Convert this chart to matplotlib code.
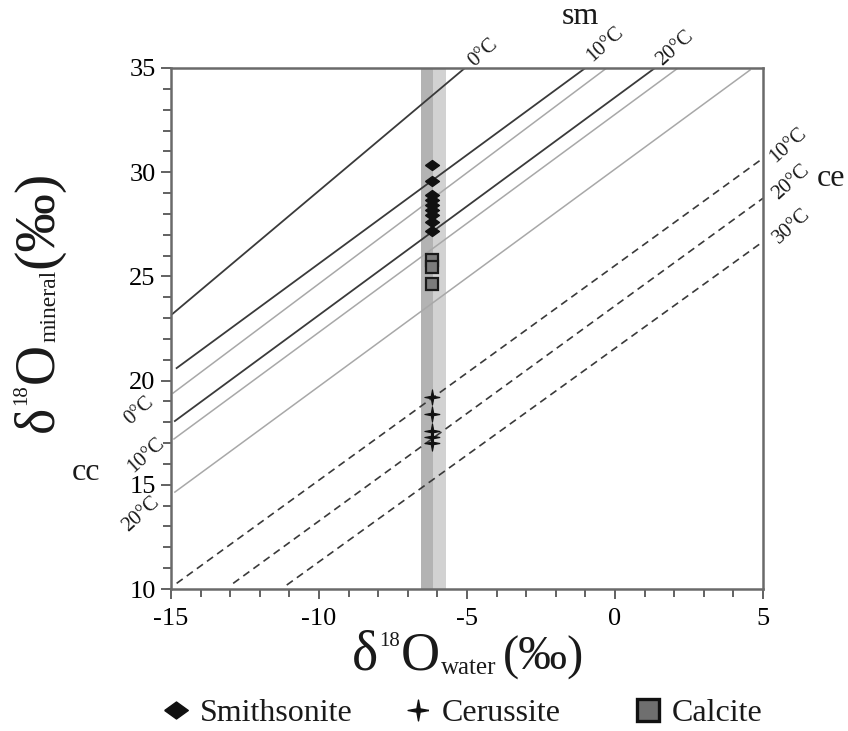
import matplotlib
matplotlib.use("Agg")
import matplotlib.pyplot as plt
import numpy as np
from matplotlib.lines import Line2D

# ---------------- data ----------------
# smithsonite equilibrium lines (solid dark)
sm_T = ["0°C", "10°C", "20°C"]
sm_x0 = [-14.95, -14.81, -14.87]
sm_y0 = [23.2, 20.6, 18.06]
sm_x1 = [-5.07, -1.0, 1.35]
sm_y1 = [35.0, 35.0, 35.0]
# calcite equilibrium lines (solid light)
cc_T = ["0°C", "10°C", "20°C"]
cc_x0 = [-14.93, -14.9, -14.87]
cc_y0 = [19.4, 17.2, 14.65]
cc_x1 = [-0.28, 2.13, 4.56]
cc_y1 = [35.0, 35.0, 34.9]
# cerussite equilibrium lines (dashed)
ce_T = ["10°C", "20°C", "30°C"]
ce_x0 = [-14.81, -12.9, -11.09]
ce_y0 = [10.27, 10.27, 10.19]
ce_x1 = [5.0, 5.0, 5.0]
ce_y1 = [30.67, 28.75, 26.67]

# water band
band_lo, band_mid, band_hi = -6.57, -6.15, -5.72

# samples
water_x = -6.19
smithsonite = [30.35, 29.58, 28.9, 28.67, 28.43, 28.19, 27.95, 27.6, 27.2]
calcite = [25.8, 25.45, 24.65]
cerussite = [19.2, 18.4, 17.6, 17.3, 17.0]

xticks = [-15, -10, -5, 0, 5]
yticks = [10, 15, 20, 25, 30, 35]

# ---------------- figure ----------------
W, H = 848, 731
plt.rcParams["font.family"] = ["Liberation Serif", "DejaVu Serif"]
fig = plt.figure(figsize=(W / 100, H / 100), dpi=100)
ax = fig.add_axes([171 / W, 1 - 589 / H, (763 - 171) / W, (589 - 68) / H])
ax.set_xlim(-15, 5)
ax.set_ylim(10, 35)

ax.axvspan(band_lo, band_mid, color="#b3b3b3", lw=0, zorder=1)
ax.axvspan(band_mid, band_hi, color="#d2d2d2", lw=0, zorder=1)

for i in range(3):
    ax.plot([sm_x0[i], sm_x1[i]], [sm_y0[i], sm_y1[i]], color="#3a3a3a", lw=1.3, zorder=2)
    ax.plot([cc_x0[i], cc_x1[i]], [cc_y0[i], cc_y1[i]], color="#a8a8a8", lw=1.1, zorder=2)
    ax.plot([ce_x0[i], ce_x1[i]], [ce_y0[i], ce_y1[i]], color="#3a3a3a", lw=1.2,
            ls=(0, (4.5, 3)), zorder=2)

diamond = [(-1, 0), (0, 0.72), (1, 0), (0, -0.72), (-1, 0)]
r_in = 0.22
star4 = []
for k in range(4):
    a = np.pi / 2 * k
    star4.append((np.cos(a), np.sin(a)))
    star4.append((r_in * np.cos(a + np.pi / 4), r_in * np.sin(a + np.pi / 4)))
star4.append(star4[0])

ax.plot([water_x] * len(smithsonite), smithsonite, ls="none", marker=diamond,
        ms=10, color="#111111", zorder=4)
ax.plot([water_x] * len(calcite), calcite, ls="none", marker="s", ms=8,
        mfc="#7c7c7c", mec="#1a1a1a", mew=1.6, zorder=4)
ax.plot([water_x] * len(cerussite), cerussite, ls="none", marker=star4, ms=11,
        color="#111111", mew=0.8, zorder=4)

ax.set_xticks(xticks)
ax.set_yticks(yticks)
ax.set_xticks(np.arange(-15, 5.1, 1), minor=True)
ax.set_yticks(np.arange(10, 35.1, 1), minor=True)
ax.tick_params(which="both", direction="out", color="#555555", width=1.3,
               labelsize=19, top=False, right=False)
ax.tick_params(which="major", length=7)
ax.tick_params(which="minor", length=6)
ax.tick_params(axis="x", pad=7)
ax.tick_params(axis="y", pad=4)
for sp in ax.spines.values():
    sp.set_color("#6a6a6a")
    sp.set_linewidth(1.8)
ax.set_xticklabels([str(t) for t in xticks])


def fx(x):
    return x / W


def fy(y):
    return 1 - y / H


def lab(x, y, s, size, rot=0, **kw):
    fig.text(fx(x), fy(y), s, size=size, rotation=rot, ha="center", va="center",
             color="#1a1a1a", **kw)


# temperature labels
top_pos = [(483, 53), (605, 44), (675, 48)]
for (x, y), s in zip(top_pos, sm_T):
    lab(x, y, s, 15, 42)
left_pos = [(139, 411), (146, 455), (141, 514)]
for (x, y), s in zip(left_pos, cc_T):
    lab(x, y, s, 15, 42)
right_pos = [(788, 145), (791, 182), (792, 226)]
for (x, y), s in zip(right_pos, ce_T):
    lab(x, y, s, 15, 42)
lab(580, 17, "sm", 23)
lab(831, 178, "ce", 23)
lab(86, 473, "cc", 23)

# ---------------- composite axis labels ----------------
fig.canvas.draw()
rend = fig.canvas.get_renderer()


def chain_h(pieces, x0, base):
    pos = x0
    for s, size, raise_, gap in pieces:
        t = fig.text(fx(pos), fy(base - raise_), s, size=size, ha="left",
                     va="baseline", color="#1a1a1a")
        bb = t.get_window_extent(rend)
        pos = bb.x1 + gap


def chain_v(pieces, base_x, y0):
    pos = H - y0  # display coords from bottom
    for s, size, raise_, gap in pieces:
        t = fig.text(fx(base_x - raise_), pos / H, s, size=size, ha="left",
                     va="baseline", rotation=90, rotation_mode="anchor",
                     color="#1a1a1a")
        bb = t.get_window_extent(rend)
        pos = bb.y1 + gap


chain_h([("δ", 40, 0, 1), ("18", 15, 24, 1), ("O", 39, 0, 1),
         ("water", 18, -4, 6), ("(‰)", 35, 0, 0)], 352, 670)
chain_v([("δ", 40, 0, 1), ("18", 15, 26, 1), ("O", 40, 0, 1),
         ("mineral", 17, -3, 2), ("(‰)", 42, 0, 0)], 52, 432)

# ---------------- legend ----------------
LFS = 23


def leg(handle, text, x_center):
    hl = 0.9
    anchor = x_center - hl * LFS * 100 / 72 / 2
    lg = fig.legend([handle], [text], loc="center left",
                    bbox_to_anchor=(fx(anchor), fy(713)), frameon=False,
                    fontsize=LFS, handlelength=hl, handletextpad=0.3,
                    borderpad=0, borderaxespad=0)
    for t in lg.get_texts():
        t.set_color("#1a1a1a")


leg(Line2D([], [], ls="none", marker=diamond, ms=17, color="#111111"), "Smithsonite", 176)
leg(Line2D([], [], ls="none", marker=star4, ms=15, color="#111111"), "Cerussite", 418)
leg(Line2D([], [], ls="none", marker="s", ms=16, mfc="#6f6f6f", mec="#111111", mew=2.4),
    "Calcite", 648)

fig.savefig("out.png", dpi=100)
